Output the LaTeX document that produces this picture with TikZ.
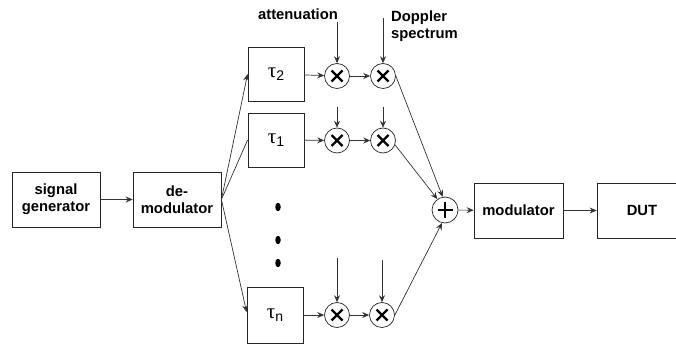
\documentclass[tikz,border=0pt]{standalone}
\usepackage{fontspec}
\setmainfont{Liberation Sans}
\newfontfamily\grkfont{Liberation Serif}
\usetikzlibrary{arrows.meta,shapes.geometric}
\newcommand{\tauwith}[1]{{\grkfont\mdseries\fontsize{21}{21}\selectfont τ}\raisebox{-3pt}{\fontsize{14}{14}\selectfont\mdseries #1}}
\begin{document}
\begin{tikzpicture}[x=1pt,y=-1pt,
  every node/.style={font=\fontsize{14.8}{17}\selectfont\bfseries},
  blk/.style={draw=black!85,line width=0.8pt,minimum width=88pt,minimum height=55pt,inner sep=0pt,align=center},
  tbox/.style={draw=black!85,line width=0.8pt,minimum width=56pt,minimum height=54pt,inner sep=0pt},
  mult/.style={draw=black!85,line width=0.7pt,circle,minimum size=25pt,inner sep=0pt},
  arr/.style={draw=black!80,line width=0.7pt,-{Stealth[length=7pt,width=6pt,inset=2.5pt]}},
  ln/.style={draw=black!80,line width=0.7pt},
  dotnode/.style={fill=black,ellipse,minimum width=5.5pt,minimum height=8.5pt,inner sep=0pt}]
\useasboundingbox (0,0) rectangle (676,347);
\clip (0,0) rectangle (676,347);
\fill[white] (0,0) rectangle (676,347);

\node[blk] (sg) at (56,199.5) {signal\\generator};
\node[blk] (dm) at (177,199.5) {de-\\modulator};
\node[tbox] (t2) at (276,74) {\tauwith{2}};
\node[tbox] (t1) at (276,140) {\tauwith{1}};
\node[tbox,minimum height=56pt] (tn) at (275,315) {\tauwith{n}};

\node[mult] (m21) at (337,76) {};
\node[mult] (m22) at (383,76) {};
\node[mult] (m11) at (337,140.5) {};
\node[mult] (m12) at (383,140.5) {};
\node[mult] (mn1) at (337,315) {};
\node[mult] (mn2) at (382,315) {};
\node[mult,minimum size=26pt] (sum) at (445,210) {};

\foreach \m in {m21,m22,m11,m12,mn1,mn2}{
  \draw[line width=2.4pt] ([shift={(-5.5,-5.5)}]\m.center) -- ([shift={(5.5,5.5)}]\m.center);
  \draw[line width=2.4pt] ([shift={(-5.5,5.5)}]\m.center) -- ([shift={(5.5,-5.5)}]\m.center);
}
\draw[line width=2.8pt] ([xshift=-7.5pt]sum.center) -- ([xshift=7.5pt]sum.center);
\draw[line width=2.8pt] ([yshift=-7.5pt]sum.center) -- ([yshift=7.5pt]sum.center);

\node[blk,minimum width=89pt] (mod) at (518.5,210.5) {modulator};
\node[blk,minimum width=90pt] (dut) at (642,210.5) {DUT};

\node (att) at (298,14) {attenuation};
\node[anchor=north west,align=left,inner sep=0pt] (dop) at (391,11) {Doppler\\spectrum};

\node[dotnode] (d1) at (278,207) {};
\node[dotnode] (d2) at (278,240) {};
\node[dotnode] (d3) at (278,263) {};

\coordinate (a2) at (337,22);
\coordinate (b2) at (383,18);
\coordinate (a1) at (337,107);
\coordinate (b1) at (383,107);
\coordinate (an) at (337,258);
\coordinate (bn) at (382,260);

\draw[arr] (sg) -- (dm);
\draw[arr] (dm.east) -- (t2.west);
\draw[ln] (dm.east) -- (t1.west);
\draw[arr] (dm.east) -- ([yshift=3pt]tn.west);

\draw[arr] (t2) -- (m21);
\draw[arr] (m21) -- (m22);
\draw[arr] (t1) -- (m11);
\draw[arr] (m11) -- (m12);
\draw[arr] (tn) -- (mn1);
\draw[arr] (mn1) -- (mn2);

\draw[arr] (a2) -- (m21.north);
\draw[arr] (b2) -- (m22.north);
\draw[arr] (a1) -- (m11.north);
\draw[arr] (b1) -- (m12.north);
\draw[arr] (an) -- (mn1.north);
\draw[arr] (bn) -- (mn2.north);

\draw[arr] (m22.east) -- (sum.100);
\draw[arr] (m12.-20) -- (sum.125);
\draw[arr] (mn2.east) -- (sum.257);

\draw[arr] (sum) -- (mod);
\draw[arr] (mod) -- (dut);
\end{tikzpicture}
\end{document}
